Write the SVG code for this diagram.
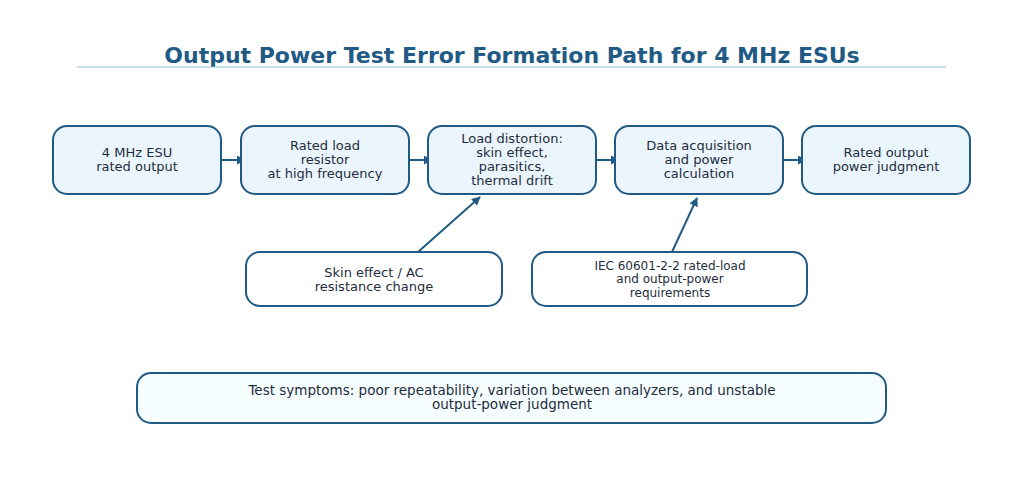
<svg xmlns="http://www.w3.org/2000/svg" width="1024" height="495" viewBox="0 0 1024 495">
<style>
.title{font-family:"DejaVu Sans",sans-serif;font-weight:bold;font-size:22px;fill:#215a84;text-anchor:middle}
.box{fill:#ebf5fd;stroke:#215a84;stroke-width:2}
.wbox{fill:#ffffff;stroke:#215a84;stroke-width:2}
.sbox{fill:#f5fdfe;stroke:#215a84;stroke-width:2}
.t{font-family:"DejaVu Sans",sans-serif;font-size:13px;fill:#1e2d3d;text-anchor:middle}
.conn{stroke:#215a84;stroke-width:2;fill:none;marker-end:url(#ah)}
</style>
<defs>
<marker id="ah" viewBox="0 0 10 10" refX="9" refY="5" markerWidth="4.5" markerHeight="4.5" orient="auto" markerUnits="strokeWidth">
<path d="M0,0 L10,5 L0,10 z" fill="#215a84"/>
</marker>
</defs>
<rect width="1024" height="495" fill="#ffffff"/>
<g id="title">
<text class="title" x="512" y="63">Output Power Test Error Formation Path for 4 MHz ESUs</text>
<line x1="77" y1="67" x2="946" y2="67" stroke="#8ec1d2" stroke-width="1.2"/>
</g>
<g id="connectors">
<line class="conn" x1="221" y1="160" x2="245" y2="160"/>
<line class="conn" x1="409" y1="160" x2="432" y2="160"/>
<line class="conn" x1="596" y1="160" x2="619" y2="160"/>
<line class="conn" x1="783" y1="160" x2="806" y2="160"/>
<line class="conn" x1="418" y1="252" x2="480" y2="197"/>
<line class="conn" x1="672" y1="252" x2="697" y2="198"/>
</g>
<g id="n1">
<rect class="box" x="53" y="126" width="168" height="68" rx="14"/>
<text class="t" x="137" y="157">4 MHz ESU</text>
<text class="t" x="137" y="171">rated output</text>
</g>
<g id="n2">
<rect class="box" x="241" y="126" width="168" height="68" rx="14"/>
<text class="t" x="325" y="150">Rated load</text>
<text class="t" x="325" y="164">resistor</text>
<text class="t" x="325" y="178">at high frequency</text>
</g>
<g id="n3">
<rect class="box" x="428" y="126" width="168" height="68" rx="14"/>
<text class="t" x="512" y="143">Load distortion:</text>
<text class="t" x="512" y="157">skin effect,</text>
<text class="t" x="512" y="171">parasitics,</text>
<text class="t" x="512" y="185">thermal drift</text>
</g>
<g id="n4">
<rect class="box" x="615" y="126" width="168" height="68" rx="14"/>
<text class="t" x="699" y="150">Data acquisition</text>
<text class="t" x="699" y="164">and power</text>
<text class="t" x="699" y="178">calculation</text>
</g>
<g id="n5">
<rect class="box" x="802" y="126" width="168" height="68" rx="14"/>
<text class="t" x="886" y="157">Rated output</text>
<text class="t" x="886" y="171">power judgment</text>
</g>
<g id="n6">
<rect class="wbox" x="246" y="252" width="256" height="54" rx="14"/>
<text class="t" x="374" y="277">Skin effect / AC</text>
<text class="t" x="374" y="291">resistance change</text>
</g>
<g id="n7">
<rect class="wbox" x="532" y="252" width="275" height="54" rx="14"/>
<text class="t" x="670" y="270" style="font-size:12px">IEC 60601-2-2 rated-load</text>
<text class="t" x="670" y="283" style="font-size:12px">and output-power</text>
<text class="t" x="670" y="297" style="font-size:12px">requirements</text>
</g>
<g id="n8">
<rect class="sbox" x="137" y="373" width="749" height="50" rx="14"/>
<text class="t" x="512" y="395" style="font-size:13.5px">Test symptoms: poor repeatability, variation between analyzers, and unstable</text>
<text class="t" x="512" y="409" style="font-size:13.5px">output-power judgment</text>
</g>
</svg>
